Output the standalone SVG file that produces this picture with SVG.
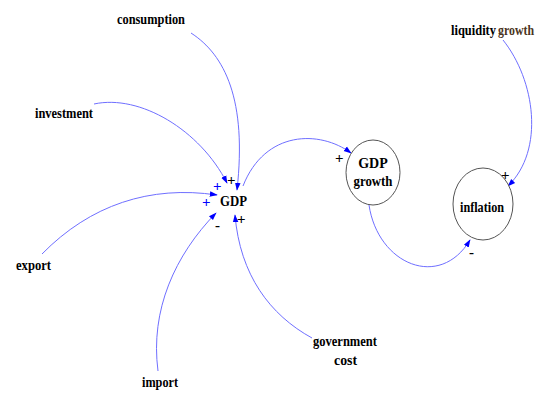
<svg xmlns="http://www.w3.org/2000/svg" width="539" height="394" viewBox="0 0 539 394">
  <defs>
    <marker id="arr" viewBox="0 0 10 10" refX="9" refY="5" markerWidth="8" markerHeight="8" markerUnits="userSpaceOnUse" orient="auto">
      <path d="M0,1.5 L10,5 L0,8.5 Z" fill="#0000ff"/>
    </marker>
  </defs>
  <style>
    text { font-family: "Liberation Serif", "DejaVu Serif", "Times New Roman", serif; }
    .lbl { font-weight: bold; font-size: 14px; fill: #000; }
    .sign { font-size: 15px; font-weight: bold; fill: #000; }
    .sign-b { font-size: 15px; font-weight: bold; fill: #0000ff; }
    .link { fill: none; stroke: #6f6fff; stroke-width: 1; marker-end: url(#arr); }
    .node { fill: #fff; stroke: #555; stroke-width: 1; }
  </style>
  <rect width="539" height="394" fill="#fff"/>

  <g id="connectors">
    <path class="link" d="M191,33 C225,55 247,100 237,190"/>
    <path class="link" d="M94,104 C140,94 200,130 227,183"/>
    <path class="link" d="M42,254 C90,205 150,185 217,195"/>
    <path class="link" d="M158,371 C150,310 175,255 216,213"/>
    <path class="link" d="M312,338 C270,315 240,275 235,215"/>
    <path class="link" d="M243,186 C265,130 320,130 351,153"/>
    <path class="link" d="M369,205 C378,265 440,290 470,240"/>
    <path class="link" d="M503,40 C535,80 545,150 508,186"/>
  </g>

  <g id="consumption"><text class="lbl" x="117" y="24" textLength="68" lengthAdjust="spacingAndGlyphs">consumption</text></g>
  <g id="investment"><text class="lbl" x="35" y="118" textLength="58" lengthAdjust="spacingAndGlyphs">investment</text></g>
  <g id="export"><text class="lbl" x="16" y="270" textLength="35" lengthAdjust="spacingAndGlyphs">export</text></g>
  <g id="import"><text class="lbl" x="142" y="387" textLength="36" lengthAdjust="spacingAndGlyphs">import</text></g>
  <g id="government-cost">
    <text class="lbl" x="313" y="346" textLength="64" lengthAdjust="spacingAndGlyphs">government</text>
    <text class="lbl" x="334" y="365" textLength="23" lengthAdjust="spacingAndGlyphs">cost</text>
  </g>
  <g id="liquidity-growth">
    <text class="lbl" x="451" y="35" textLength="45" lengthAdjust="spacingAndGlyphs">liquidity</text>
    <text class="lbl" x="498" y="35" textLength="36" lengthAdjust="spacingAndGlyphs" style="fill:#4a3422">growth</text>
  </g>

  <g id="GDP">
    <text class="lbl" x="220" y="206" textLength="27" lengthAdjust="spacingAndGlyphs">GDP</text>
  </g>
  <g id="GDP-growth">
    <ellipse class="node" cx="373" cy="172.5" rx="27" ry="32.5"/>
    <text class="lbl" x="373" y="168" text-anchor="middle">GDP</text>
    <text class="lbl" x="373" y="186" text-anchor="middle" textLength="39" lengthAdjust="spacingAndGlyphs">growth</text>
  </g>
  <g id="inflation">
    <ellipse class="node" cx="483" cy="204" rx="30" ry="36"/>
    <text class="lbl" x="482" y="212" text-anchor="middle" textLength="44" lengthAdjust="spacingAndGlyphs">inflation</text>
  </g>

  <g id="polarities">
    <text class="sign-b" x="213" y="191">+</text>
    <text class="sign" x="227" y="185">+</text>
    <text class="sign-b" x="202" y="207">+</text>
    <text class="sign" x="215" y="230">-</text>
    <text class="sign" x="237" y="224">+</text>
    <text class="sign" x="335" y="163">+</text>
    <text class="sign" x="469" y="257">-</text>
    <text class="sign" x="501" y="180">+</text>
  </g>
</svg>
